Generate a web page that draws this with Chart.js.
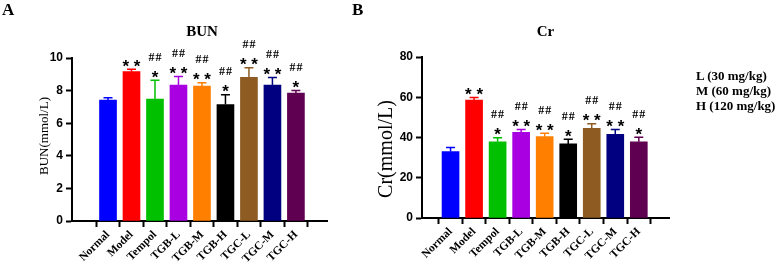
<!DOCTYPE html>
<html>
<head>
<meta charset="utf-8">
<script src="https://cdn.jsdelivr.net/npm/chart.js@4"></script>
<style>
  html, body { margin: 0; padding: 0; background: #fff; }
  #wrap { position: relative; width: 783px; height: 270px; overflow: hidden; }
  canvas { position: absolute; top: 0; }
  .panel { position: absolute; top: 1px; font: bold 17px "Liberation Serif"; line-height: 17px; }
  #dose { position: absolute; left: 696px; top: 68px; font: bold 13px "Liberation Serif"; line-height: 15px; }
</style>
</head>
<body>
<div id="wrap">
  <canvas id="bunChart" width="390" height="270" style="left:0px"></canvas>
  <canvas id="crChart" width="413" height="270" style="left:370px"></canvas>
  <div class="panel" style="left:2px">A</div>
  <div class="panel" style="left:352px">B</div>
  <div id="dose">L (30 mg/kg)<br>M (60 mg/kg)<br>H (120 mg/kg)</div>
</div>
<script>
  const groups = ["Normal", "Model", "Tempol", "TGB-L", "TGB-M", "TGB-H", "TGC-L", "TGC-M", "TGC-H"];
  const barColors = ["#0000ff", "#ff0000", "#00c000", "#a800e0", "#ff8000", "#000000", "#8e5c23", "#000080", "#600050"];

  // BUN (mmol/L): mean and upper error
  const bunMean = [7.42, 9.16, 7.48, 8.34, 8.28, 7.15, 8.81, 8.34, 7.85];
  const bunErr = [0.14, 0.15, 1.15, 0.53, 0.20, 0.59, 0.59, 0.47, 0.16];
  const bunStars = ["", "**", "*", "**", "**", "*", "**", "**", "*"];
  const bunHashes = ["", "", "##", "##", "##", "##", "##", "##", "##"];
  const bunTicks = { max: 10, step: 2 };

  // Cr (mmol/L)
  const crMean = [33.0, 58.6, 37.9, 42.6, 40.4, 36.8, 44.6, 41.6, 37.9];
  const crErr = [2.0, 1.3, 2.0, 1.4, 1.7, 2.3, 2.2, 2.4, 2.2];
  const crStars = ["", "**", "*", "**", "**", "*", "**", "**", "*"];
  const crHashes = ["", "", "##", "##", "##", "##", "##", "##", "##"];
  const crTicks = { max: 80, step: 20 };

  // error bars, significance marks, titles
  const decorations = {
    id: "decorations",
    afterDatasetsDraw(chart, args, opts) {
      const { ctx, chartArea } = chart;
      const x = chart.scales.x, y = chart.scales.y;
      ctx.save();
      opts.mean.forEach((m, i) => {
        const px = x.getPixelForValue(i);
        const yBar = y.getPixelForValue(m);
        const yTop = y.getPixelForValue(m + opts.err[i]);
        ctx.strokeStyle = barColors[i];
        ctx.lineWidth = 1.5;
        ctx.beginPath();
        ctx.moveTo(px, yBar);
        ctx.lineTo(px, yTop);
        ctx.moveTo(px - 4.5, yTop);
        ctx.lineTo(px + 4.5, yTop);
        ctx.stroke();

        const starY = yTop - 7.5;
        ctx.fillStyle = "#000";
        ctx.textAlign = "center";
        if (opts.stars[i]) {
          ctx.font = 'bold 17px "Liberation Sans"';
          ctx.textBaseline = "alphabetic";
          ctx.fillText(opts.stars[i].split("").join(" "), px, starY + 9.8);
        }
        if (opts.hashes[i]) {
          ctx.font = 'bold 12px "Liberation Serif"';
          ctx.letterSpacing = "1px";
          ctx.textBaseline = "middle";
          ctx.fillText(opts.hashes[i], px + 0.5, starY - 15);
          ctx.letterSpacing = "0px";
        }
      });

      ctx.fillStyle = "#000";
      ctx.textAlign = "center";
      ctx.textBaseline = "alphabetic";
      ctx.font = 'bold 15px "Liberation Serif"';
      ctx.fillText(opts.title, (chartArea.left + chartArea.right) / 2 + opts.titleDx, 35.7);

      ctx.translate(opts.yTitleX, opts.yTitleY);
      ctx.rotate(-Math.PI / 2);
      ctx.font = opts.yTitleFont;
      ctx.textBaseline = "middle";
      ctx.fillText(opts.yTitle, 0, 0);
      ctx.restore();
    },
  };

  function makeChart(id, mean, err, stars, hashes, ticks, layout) {
    const ctx = document.getElementById(id).getContext("2d");
    return new Chart(ctx, {
      type: "bar",
      data: {
        datasets: [
          {
            data: mean.map((v, i) => ({ x: i, y: v })),
            backgroundColor: barColors,
            borderWidth: 0,
            barThickness: 17,
          },
        ],
      },
      options: {
        responsive: false,
        animation: false,
        layout: { padding: { left: 0, top: layout.top, right: layout.right, bottom: 0 } },
        plugins: {
          legend: { display: false },
          tooltip: { enabled: false },
          decorations: {
            mean: mean,
            err: err,
            stars: stars,
            hashes: hashes,
            title: layout.title,
            titleDx: layout.titleDx,
            yTitle: layout.yTitle,
            yTitleFont: layout.yTitleFont,
            yTitleX: layout.yTitleX,
            yTitleY: layout.yTitleY,
          },
        },
        scales: {
          x: {
            type: "linear",
            min: layout.xMin,
            max: layout.xMax,
            afterBuildTicks: (scale) => {
              scale.ticks = groups.map((g, i) => ({ value: i }));
            },
            afterFit: (scale) => {
              scale.height = layout.xHeight;
            },
            ticks: {
              autoSkip: false,
              minRotation: 45,
              maxRotation: 45,
              padding: 1,
              color: "#000",
              font: { family: "Liberation Serif", size: 11.5, weight: "bold" },
              callback: (v, i) => groups[i],
            },
            grid: { drawOnChartArea: false, tickLength: 6, tickWidth: 2, tickColor: "#000" },
            border: { color: "#000", width: 2 },
          },
          y: {
            min: 0,
            max: ticks.max,
            afterFit: (scale) => {
              scale.width = layout.yWidth;
            },
            ticks: {
              stepSize: ticks.step,
              padding: 3,
              color: "#000",
              font: { family: "Liberation Sans", size: 12, weight: "bold" },
            },
            grid: { drawOnChartArea: false, tickLength: 6, tickWidth: 2, tickColor: "#000" },
            border: { color: "#000", width: 2 },
          },
        },
      },
      plugins: [decorations],
    });
  }

  makeChart("bunChart", bunMean, bunErr, bunStars, bunHashes, bunTicks, {
    top: 58, right: 63, yWidth: 72, xHeight: 49,
    xMin: -0.93, xMax: 8.72,
    title: "BUN", titleDx: 2.5,
    yTitle: "BUN(mmol/L)", yTitleFont: '13px "Liberation Serif"', yTitleX: 45, yTitleY: 136,
  });

  makeChart("crChart", crMean, crErr, crStars, crHashes, crTicks, {
    top: 57, right: 114, yWidth: 52, xHeight: 52,
    xMin: -0.63, xMax: 8.70,
    title: "Cr", titleDx: 0,
    yTitle: "Cr(mmol/L)", yTitleFont: '20px "Liberation Serif"', yTitleX: 17, yTitleY: 149,
  });
</script>
</body>
</html>
